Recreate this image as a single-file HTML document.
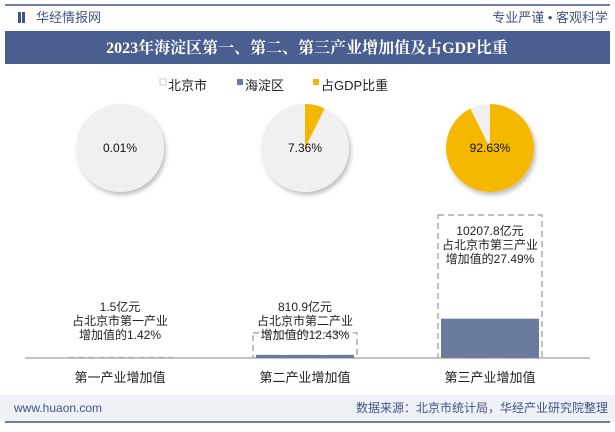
<!DOCTYPE html>
<html><head><meta charset="utf-8"><style>
body{margin:0;width:615px;height:427px;overflow:hidden;background:#fff;font-family:"Liberation Sans","Noto Sans CJK SC",sans-serif;}
</style></head><body>
<svg width="615" height="427" xmlns="http://www.w3.org/2000/svg" font-family="Liberation Sans, Noto Sans CJK SC, sans-serif">
<defs><filter id="sh" x="-20%" y="-20%" width="150%" height="150%"><feDropShadow dx="2" dy="3" stdDeviation="2" flood-color="#000" flood-opacity="0.25"/></filter></defs>
<line x1="5" y1="5" x2="610" y2="5" stroke="#3f5486" stroke-width="1.5"/>
<rect x="18" y="12" width="3" height="11" fill="#3f5486"/><rect x="22" y="12" width="3" height="11" fill="#3f5486"/>
<text x="36" y="22" font-size="13" fill="#3f5486">华经情报网</text>
<text x="608" y="22" font-size="13" fill="#3f5486" text-anchor="end">专业严谨 • 客观科学</text>
<rect x="5" y="31" width="605" height="33" fill="#4a5e8f"/>
<text x="307" y="53" font-size="16" font-weight="bold" fill="#fff" text-anchor="middle" font-family="Liberation Serif, Noto Serif CJK SC, serif">2023年海淀区第一、第二、第三产业增加值及占GDP比重</text>
<g font-size="13" fill="#222">
<rect x="160" y="79" width="6" height="6" fill="#fff" stroke="#ccc"/><text x="168" y="90">北京市</text>
<rect x="237" y="79" width="6" height="6" fill="#6b7b9e"/><text x="245" y="90">海淀区</text>
<rect x="313" y="79" width="6" height="6" fill="#f5b800"/><text x="321" y="90">占GDP比重</text>
</g>
<g id="pies"></g>
<line x1="25" y1="358" x2="590" y2="358" stroke="#888" stroke-width="1"/>
<g id="bars"></g>
<rect x="0" y="395" width="615" height="27" fill="#eef1f6"/>
<text x="14" y="412" font-size="12" fill="#3f5486">www.huaon.com</text>
<text x="608" y="412" font-size="12" fill="#3f5486" text-anchor="end">数据来源：北京市统计局，华经产业研究院整理</text>
<line x1="5" y1="422" x2="610" y2="422" stroke="#3f5486" stroke-width="1.5"/>
</svg>
<script>
const categories=["第一产业增加值","第二产业增加值","第三产业增加值"];
const haidianValues=[1.5,810.9,10207.8];
const shareOfBeijing=[1.42,12.43,27.49];
const gdpShare=[0.01,7.36,92.63];
const valueLabels=["1.5亿元","810.9亿元","10207.8亿元"];
const ns="http://www.w3.org/2000/svg";
function mk(t,a,p){const e=document.createElementNS(ns,t);for(const k in a)e.setAttribute(k,a[k]);p.appendChild(e);return e;}
const pies=document.getElementById('pies'),bars=document.getElementById('bars');
const xCenter=i=>120+i*185;
const base=358,maxTotal=Math.max(...haidianValues.map((v,i)=>v/(shareOfBeijing[i]/100)));
const yScale=v=>v/maxTotal*143;
categories.forEach((c,i)=>{
 const cx=xCenter(i),cy=148,r=44;
 const g=mk('g',{},pies);
 
 
 const bg=mk('circle',{cx,cy,r,fill:'#f0f0f0',filter:'url(#sh)'},g);
 const f=gdpShare[i]/100;
 if(f>0.0005){
  const a=f*2*Math.PI,x=cx+r*Math.sin(a),y=cy-r*Math.cos(a);
  const sl=mk('path',{d:`M${cx},${cy} L${cx},${cy-r} A${r},${r} 0 ${f>0.5?1:0} 1 ${x},${y} Z`,fill:'#f5b800'},g);
  
  
 }
 const t=mk('text',{x:cx,y:cy+4,'font-size':12,'text-anchor':'middle',fill:'#111'},g);t.textContent=gdpShare[i].toFixed(2)+'%';
 
 
 const tot=yScale(haidianValues[i]/(shareOfBeijing[i]/100)),hd=yScale(haidianValues[i]);
 const bx=cx-52,bw=104;
 const ob=mk('rect',{x:bx,y:base-tot,width:bw,height:tot,fill:'none',stroke:'#aaa','stroke-width':1.5,'stroke-dasharray':'6,4'},bars);
 
 
 const hb=mk('rect',{x:bx+3,y:base-hd,width:bw-6,height:hd,fill:'#6b7b9e'},bars);
 
 
 const ty=Math.min(base-tot,base-28)-12-24;
 const lab=mk('text',{'font-size':12,'text-anchor':'middle',fill:'#222'},bars);
 
 
 const lines=[valueLabels[i],'占北京市'+['第一','第二','第三'][i]+'产业','增加值的'+shareOfBeijing[i]+'%'];
 const y0=i==2?base-tot+20:base-47;
 lines.forEach((s,j)=>{const ts=mk('tspan',{x:cx,y:y0+j*14},lab);ts.textContent=s;});
 const cl=mk('text',{x:cx,y:382,'font-size':13,'text-anchor':'middle',fill:'#222'},bars);cl.textContent=c;
 
 
});
</script>
</body></html>
